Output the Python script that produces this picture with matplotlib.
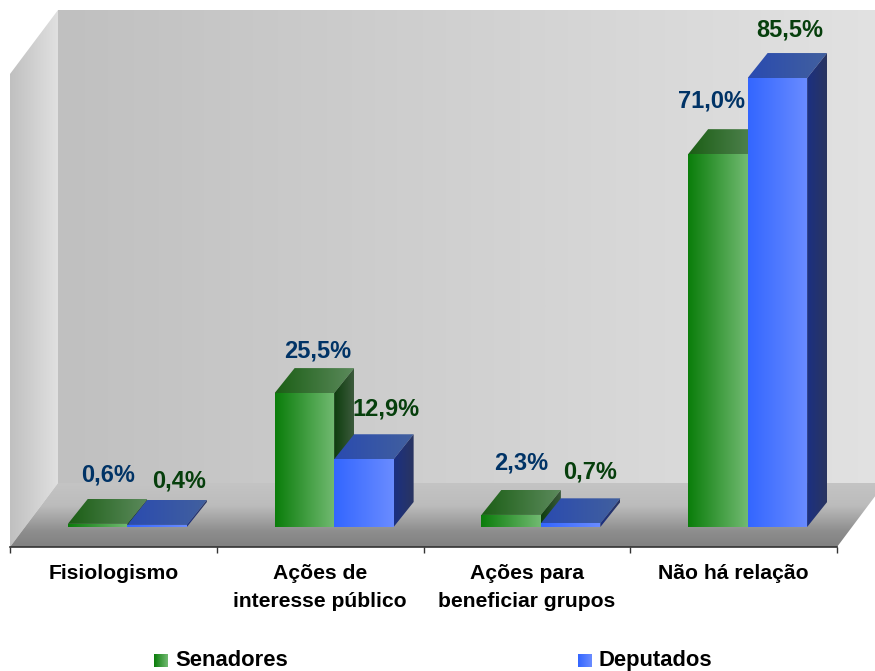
import numpy as np
import matplotlib
matplotlib.use('Agg')
import matplotlib.pyplot as plt
from matplotlib.patches import Polygon
from matplotlib.colors import LinearSegmentedColormap

categories = ['Fisiologismo', 'Ações de\ninteresse público', 'Ações para\nbeneficiar grupos', 'Não há relação']
senadores = [0.6, 25.5, 2.3, 71.0]
deputados = [0.4, 12.9, 0.7, 85.5]
senadores_labels = ['0,6%', '25,5%', '2,3%', '71,0%']
deputados_labels = ['0,4%', '12,9%', '0,7%', '85,5%']

# where each value label sits relative to the front top of its bar, pixels
senadores_offset = [(10, 49), (13, 42), (10, 52), (-6, 53)]
deputados_offset = [(22, 44), (22, 50), (19, 51), (12, 48)]

W, H = 875, 671
plt.rcParams['font.family'] = ['Liberation Sans', 'DejaVu Sans']

fig = plt.figure(figsize=(W / 100, H / 100), dpi=100)
ax = fig.add_axes([10 / W, (H - 547) / H, 827 / W, 473 / H])
ax.set_xlim(0, 4)
PX_X = 4 / 827           # data units per pixel
PX_Y = 1 / 5.251
ax.set_ylim(-20 * PX_Y, 453 * PX_Y)
ax.patch.set_visible(False)
for s in ['top', 'left', 'right']:
    ax.spines[s].set_visible(False)
ax.spines['bottom'].set_color('#333333')
ax.spines['bottom'].set_linewidth(1.2)
ax.set_yticks([])
ax.set_xticks(range(5))
ax.set_xticklabels([])
ax.tick_params(axis='x', which='major', length=4.5, width=1, color='#333333')
ax.set_xticks(np.arange(4) + 0.5, minor=True)
ax.set_xticklabels(categories, minor=True, fontsize=15.2, fontweight='bold', linespacing=1.55)
ax.tick_params(axis='x', which='minor', length=0, pad=12.5)


def fill(points, stops, vertical=False, z=1):
    # paint a polygon with a linear gradient, left to right or top to bottom
    pts = np.array(points)
    poly = Polygon(pts, closed=True, transform=ax.transData, fc='none', ec='none')
    cmap = LinearSegmentedColormap.from_list('g', stops)
    grad = np.linspace(0, 1, 256).reshape(-1, 1) if vertical else np.linspace(0, 1, 256).reshape(1, -1)
    box = (pts[:, 0].min(), pts[:, 0].max(), pts[:, 1].min(), pts[:, 1].max())
    im = ax.imshow(grad, extent=box, origin='upper', cmap=cmap, aspect='auto',
                   interpolation='bilinear', zorder=z)
    im.set_clip_box(fig.bbox)
    im.set_clip_path(poly)


def bar3d(x0, x1, v, front, top, side, z):
    base = 0
    dx, dy = 20 * PX_X, 25 * PX_Y
    fill([(x0, v), (x0 + dx, v + dy), (x1 + dx, v + dy), (x1, v)], top, z=z)
    fill([(x1, base), (x1 + dx, base + dy), (x1 + dx, v + dy), (x1, v)], side, z=z)
    fill([(x0, base), (x1, base), (x1, v), (x0, v)], front, z=z + 0.1)


# walls and floor
wall_dx, wall_dy = 48 * PX_X, 64 * PX_Y
y_floor = -20 * PX_Y
y_top = 453 * PX_Y
fill([(0, y_floor), (wall_dx, y_floor + wall_dy), (wall_dx, y_top + wall_dy), (0, y_top)],
     ['#c0c0c0', '#e0e0e0'])
fill([(wall_dx, y_floor + wall_dy), (4 + wall_dx, y_floor + wall_dy), (4 + wall_dx, y_top + wall_dy), (wall_dx, y_top + wall_dy)],
     ['#c0c0c0', '#e2e2e2'])
fill([(0, y_floor), (4, y_floor), (4 + wall_dx, y_floor + wall_dy), (wall_dx, y_floor + wall_dy)],
     [(0, '#c4c4c4'), (0.35, '#bcbcbc'), (0.75, '#8e8e8e'), (1, '#808080')], vertical=True)
ax.set_xlim(0, 4)
ax.set_ylim(y_floor, y_top)

green_front = ['#0a7d0a', '#72ba72']
green_top = ['#1b5e15', '#5c8a5c']
green_side = ['#0d3d0d', '#3c5a3c']
blue_front = ['#3366ff', '#6a8cff']
blue_top = ['#2a4bb0', '#42609e']
blue_side = ['#1b3082', '#2a3560']

bar_w = 59.5 * PX_X
shift = 14 * PX_X
for i in range(4):
    c = i + 0.5 + shift
    bar3d(c - bar_w, c, senadores[i], green_front, green_top, green_side, 3 + i)
    bar3d(c, c + bar_w, deputados[i], blue_front, blue_top, blue_side, 3.5 + i)
    ax.annotate(senadores_labels[i], (c - bar_w / 2, senadores[i]), xytext=senadores_offset[i],
                textcoords='offset pixels', ha='center', va='center', color='#003366',
                fontsize=17, fontweight='bold', zorder=10, annotation_clip=False)
    ax.annotate(deputados_labels[i], (c + bar_w / 2, deputados[i]), xytext=deputados_offset[i],
                textcoords='offset pixels', ha='center', va='center', color='#063f0c',
                fontsize=17, fontweight='bold', zorder=10, annotation_clip=False)

ax.set_xlim(0, 4)
ax.set_ylim(y_floor, y_top)

# legend, gradient swatches so a normal legend handle won't do
leg = fig.add_axes([0, 0, 1, 1])
leg.set_xlim(0, W)
leg.set_ylim(H, 0)
leg.axis('off')
leg.imshow(np.linspace(0, 1, 64).reshape(1, -1), extent=(154, 168, 667, 654), aspect='auto',
           cmap=LinearSegmentedColormap.from_list('s', green_front))
leg.imshow(np.linspace(0, 1, 64).reshape(1, -1), extent=(578, 592, 667, 654), aspect='auto',
           cmap=LinearSegmentedColormap.from_list('d', blue_front))
leg.set_xlim(0, W)
leg.set_ylim(H, 0)
leg.text(175, 666, 'Senadores', fontsize=15.8, fontweight='bold', va='baseline')
leg.text(598, 666, 'Deputados', fontsize=15.8, fontweight='bold', va='baseline')

fig.savefig('out.png', dpi=100)
